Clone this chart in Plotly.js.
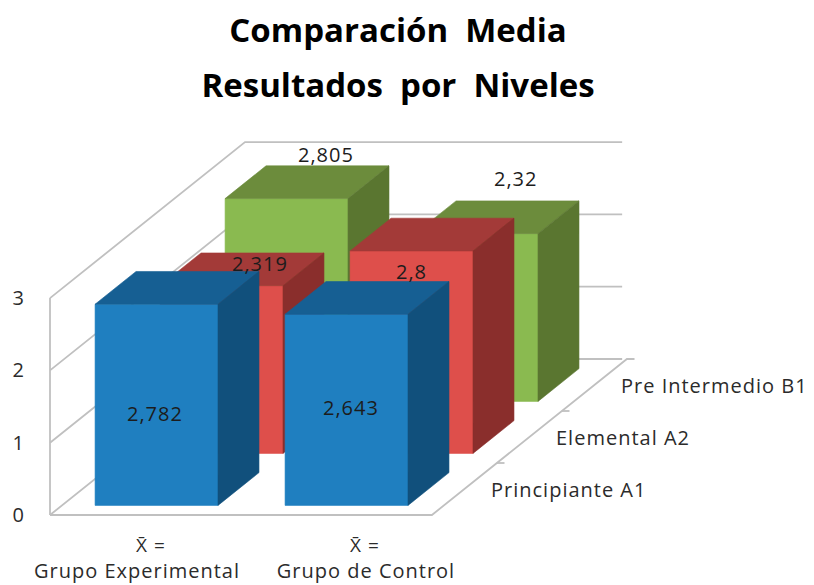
<!DOCTYPE html>
<html><head><meta charset="utf-8">
<script src="https://cdn.plot.ly/plotly-3.0.1.min.js"></script>
<style>html,body{margin:0;padding:0;background:#fff}
.annotation-text,.xtick text{letter-spacing:1px}</style></head>
<body><div id="chart" style="width:814px;height:585px"></div>
<script>
// ---- data ----
const categories = ['Grupo Experimental', 'Grupo de Control'];
const seriesNames = ['Principiante A1', 'Elemental A2', 'Pre Intermedio B1'];
const principiante = [2.782, 2.643];
const elemental = [2.319, 2.8];
const preIntermedio = [2.805, 2.32];
const valueTicks = [0, 1, 2, 3];

// ---- styles ----
const seriesValues = [principiante, elemental, preIntermedio];
const faceColors = [
  {front:'#1f7fc0', top:'#165f93', side:'#11507c'},
  {front:'#de4f4b', top:'#a33a38', side:'#8a2e2c'},
  {front:'#8aba50', top:'#6c8c3c', side:'#5a7630'}
];
const gridColor = '#c0c0c0';
const textFont = 'Open Sans, sans-serif';
const textColor = '#2b2b2b';
// label offsets from the top-centre of each front face, in pixels (right, up)
const labelShift = [
  [[-1.5,-109],[4.5,-93]],
  [[38.5,22],[0,-21]],
  [[39.5,44],[38.5,55]]
];

// ---- oblique projection: each series row moves right and up in axis units ----
const pxPerCat = 190, pxPerVal = 72.3;
const skewX = 65/pxPerCat, skewY = 52/pxPerVal;
const gapCat = 0.174, barCat = 0.647, gapSer = 0.185, barSer = 0.63;
const px = (c,s) => c + s*skewX;
const py = (v,s) => v + s*skewY;

const traces = [];
function poly(pts, color){
  traces.push({type:'scatter', mode:'lines', fill:'toself', fillcolor:color,
    x:pts.map(p=>px(p[0],p[1])), y:pts.map(p=>py(p[2],p[1])),
    line:{color:color,width:0.6}, hoverinfo:'skip', showlegend:false});
}
function line(pts, w){
  traces.push({type:'scatter', mode:'lines',
    x:pts.map(p=>px(p[0],p[1])), y:pts.map(p=>py(p[2],p[1])),
    line:{color:gridColor,width:w||1.8}, hoverinfo:'skip', showlegend:false});
}

// walls and floor
const nCat = categories.length, nSer = seriesNames.length, maxV = valueTicks[valueTicks.length-1];
valueTicks.forEach(v=>{
  line([[0,0,v],[0,nSer,v],[nCat-0.015,nSer,v]]);
});
line([[0,0,0],[0,0,maxV]]);
line([[0,0,0],[nCat+0.01,0,0],[nCat+0.01,nSer,0],[nCat+0.05,nSer,0]]);
[1,2].forEach(s=>line([[nCat+0.01,s,0],[nCat+0.05,s,0]]));

// bars, back row first
const annotations = [];
for(let s=nSer-1;s>=0;s--){
  for(let c=0;c<nCat;c++){
    const v = seriesValues[s][c], col = faceColors[s];
    const c0=c+gapCat, c1=c0+barCat, s0=s+gapSer, s1=s0+barSer;
    poly([[c0,s0,0],[c1,s0,0],[c1,s0,v],[c0,s0,v],[c0,s0,0]], col.front);
    poly([[c0,s0,v],[c1,s0,v],[c1,s1,v],[c0,s1,v],[c0,s0,v]], col.top);
    poly([[c1,s0,0],[c1,s1,0],[c1,s1,v],[c1,s0,v],[c1,s0,0]], col.side);
  }
}
// data labels, drawn above all faces
for(let s=0;s<nSer;s++){
  for(let c=0;c<nCat;c++){
    const v = seriesValues[s][c];
    annotations.push({xref:'x',yref:'y',x:px(c+gapCat+barCat/2,s+gapSer),y:py(v,s+gapSer),
      text:String(v).replace('.',','),showarrow:false,xanchor:'center',yanchor:'middle',
      xshift:labelShift[s][c][0],yshift:labelShift[s][c][1],
      font:{family:textFont,size:20,color:'#1c1c1c'}});
  }
}
// depth-axis labels
seriesNames.forEach((n,s)=>annotations.push({xref:'x',yref:'y',x:px(nCat,s+0.5),y:py(0,s+0.5),
  text:n,showarrow:false,xanchor:'left',yanchor:'middle',xshift:26,
  font:{family:textFont,size:20,color:textColor}}));
// overbar line above the category names
[0.53,1.66].forEach(x=>annotations.push({xref:'x',yref:'y',x:x,y:-0.42,text:'X\u0304 =',
  showarrow:false,xanchor:'center',yanchor:'middle',font:{family:textFont,size:19,color:textColor}}));

const plotLeft=25, plotBottom=557, floorX=50, floorY=515;
const layout = {
  width:814, height:585, paper_bgcolor:'#fff', plot_bgcolor:'#fff', showlegend:false,
  margin:{l:plotLeft,r:0,t:0,b:585-plotBottom},
  title:{text:'<span style="font-size:33px">Comparaci\u00f3n\u00a0 Media</span><br><span style="font-size:33px">Resultados\u00a0 por\u00a0 Niveles</span>',
    font:{family:textFont,size:42,color:'#000',weight:700},x:0.489,xanchor:'center',y:0.924,yanchor:'middle',yref:'paper'},
  xaxis:{range:[(plotLeft-floorX)/pxPerCat,(814-floorX)/pxPerCat],showgrid:false,zeroline:false,showline:false,
    tickmode:'array',tickvals:[0.458,1.663],ticktext:categories,ticks:'',ticklen:0,
    tickfont:{family:textFont,size:20,color:textColor},fixedrange:true},
  yaxis:{range:[(floorY-plotBottom)/pxPerVal,floorY/pxPerVal],showgrid:false,zeroline:false,showline:false,
    tickmode:'array',tickvals:valueTicks,ticktext:valueTicks.map(String),ticks:'',
    tickfont:{family:textFont,size:20,color:textColor},fixedrange:true},
  annotations:annotations
};
Plotly.newPlot('chart',traces,layout,{displayModeBar:false,staticPlot:true});
</script></body></html>
